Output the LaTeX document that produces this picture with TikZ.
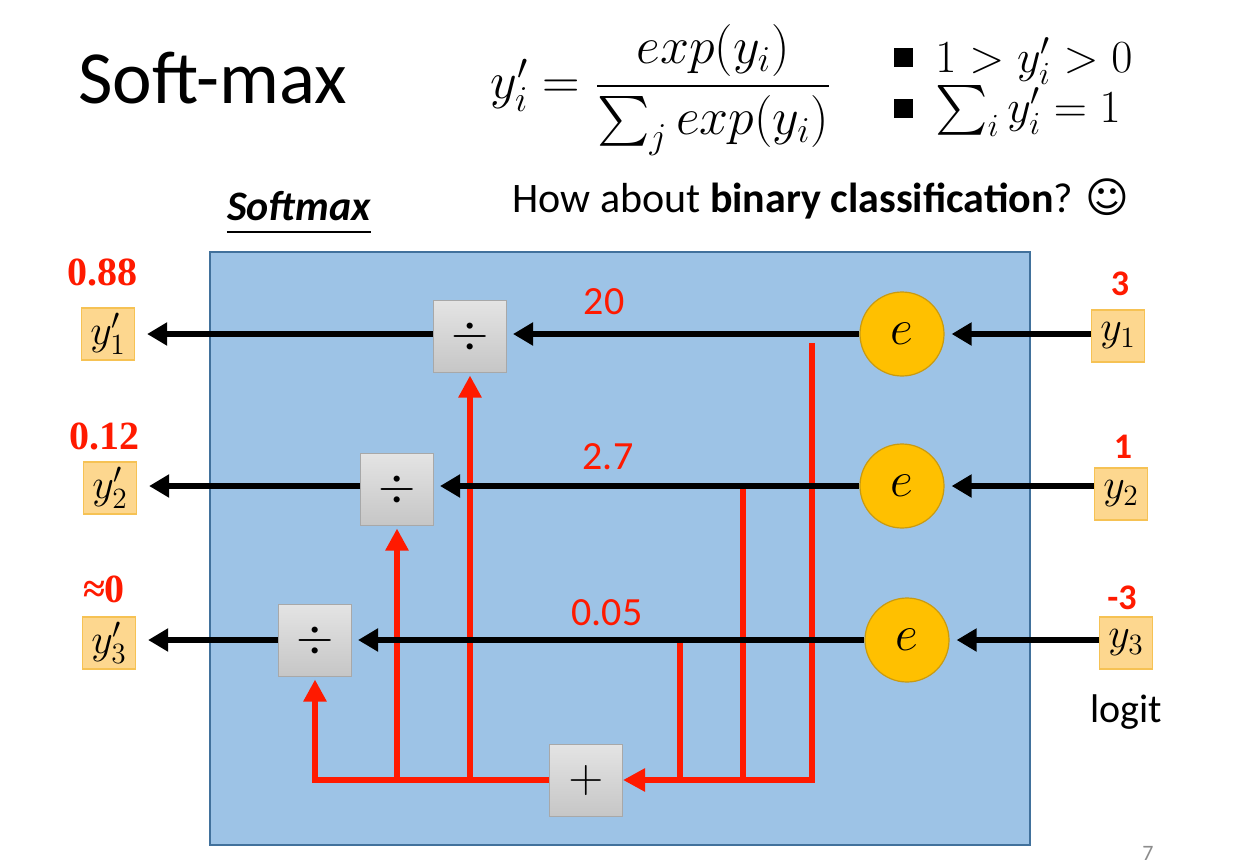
\RequirePackage{fix-cm}
\documentclass[tikz,border=0pt]{standalone}
\usepackage{amsmath}
\usepackage{fontspec}
\setmainfont{Carlito}
\newfontfamily\serifbold{Liberation Serif}
\newfontfamily\symbolfont{DejaVu Sans}
\usepackage{tikz}
\usetikzlibrary{arrows.meta,positioning,calc}
\definecolor{panelblue}{HTML}{9DC3E6}
\definecolor{paneledge}{HTML}{41719C}
\definecolor{amber}{HTML}{FFC000}
\definecolor{amberedge}{HTML}{C99A10}
\definecolor{valfill}{HTML}{FDD78F}
\definecolor{valedge}{HTML}{F6C254}
\definecolor{optop}{HTML}{E4E4E4}
\definecolor{opbottom}{HTML}{C6C6C6}
\definecolor{opedge}{HTML}{A8A8A8}
\definecolor{pptred}{HTML}{FF1A00}
\definecolor{pagegray}{HTML}{8C8C8C}

\begin{document}
\begin{tikzpicture}[
    x=0.5pt,y=-0.5pt,
    every node/.style={inner sep=0pt},
    panel/.style={fill=panelblue,draw=paneledge,line width=0.6pt},
    opbox/.style={draw=opedge,line width=0.5pt,top color=optop,bottom color=opbottom,
      minimum width=36.5pt,minimum height=36pt,font=\fontsize{24}{24}\selectfont},
    expnode/.style={circle,fill=amber,draw=amberedge,line width=0.6pt,minimum size=42pt,
      font=\fontsize{25}{25}\selectfont},
    valbox/.style={fill=valfill,draw=valedge,line width=0.6pt,minimum width=26.5pt,
      minimum height=26pt,font=\fontsize{21}{21}\selectfont},
    sigflow/.style={line width=3pt,-{Triangle[length=10pt,width=11pt]}},
    sumflow/.style={line width=3pt,pptred},
    sumarrow/.style={sumflow,-{Triangle[length=11pt,width=11pt]}},
    outval/.style={text=pptred,font=\serifbold\bfseries\fontsize{20}{20}\selectfont},
    inval/.style={text=pptred,font=\bfseries\fontsize{18}{18}\selectfont},
    expval/.style={text=pptred,font=\fontsize{20}{20}\selectfont},
  ]
  \useasboundingbox (0,0) rectangle (1238,868);
  \fill[white] (0,0) rectangle (1238,868);

  % heading, formula and the two conditions
  \node[anchor=base west,font=\fontsize{37.5}{37.5}\selectfont] (title) at (78,103) {Soft-max};
  \node[anchor=west,font=\fontsize{26}{26}\selectfont] (formula) at (490,90)
    {$y_i' = \dfrac{exp(y_i)}{\sum_j exp(y_i)}$};
  \node[fill=black,minimum size=9.5pt] (sq1) at (903,57) {};
  \node[fill=black,minimum size=9.5pt] (sq2) at (903,108) {};
  \node[anchor=base west,font=\fontsize{23}{23}\selectfont] (cond1) at (935,72) {$1 > y_i' > 0$};
  \node[anchor=base west,font=\fontsize{23}{23}\selectfont] (cond2) at (935,122) {$\sum_i y_i' = 1$};

  \node[anchor=base west,font=\fontsize{21}{21}\selectfont] (question) at (512,212)
    {How about \textbf{binary classification}? {\symbolfont ☺}};
  \node[anchor=base,font=\bfseries\itshape\fontsize{21}{21}\selectfont] (softlbl) at (299,220) {Softmax};
  \draw[line width=0.8pt] ([yshift=-6pt]softlbl.base west) -- ([yshift=-6pt]softlbl.base east);

  % the softmax block
  \draw[panel] (210,252) rectangle (1030,845);

  \node[valbox] (out1) at (108,334) {$y_1'$};
  \node[valbox] (out2) at (110,488) {$y_2'$};
  \node[valbox] (out3) at (109,643) {$y_3'$};
  \node[opbox] (div1) at (470,336) {$\div$};
  \node[opbox] (div2) at (397,489) {$\div$};
  \node[opbox] (div3) at (315,640) {$\div$};
  \node[opbox] (sum) at (586,780) {$+$};
  \node[expnode] (exp1) at (902,334) {$e$};
  \node[expnode] (exp2) at (902,486) {$e$};
  \node[expnode] (exp3) at (907,640) {$e$};
  \node[valbox] (in1) at (1118,336) {$y_1$};
  \node[valbox] (in2) at (1121,494) {$y_2$};
  \node[valbox] (in3) at (1126,643) {$y_3$};

  % red sum path
  \coordinate (tap1) at (812,343);
  \coordinate (tap2) at (743,487);
  \coordinate (tap3) at (680,640);
  \draw[sumarrow] (tap1) |- (sum.east);
  \draw[sumflow] (tap2) -- (tap2 |- sum);
  \draw[sumflow] (tap3) -- (tap3 |- sum);
  \draw[sumarrow,shorten >=1.5pt] (sum.west) -| (div3.south);
  \draw[sumarrow,shorten >=1.5pt] (div2 |- sum) -- (div2.south);
  \draw[sumarrow,shorten >=1.5pt] (div1 |- sum) -- (div1.south);

  % black signal path
  \foreach \i in {1,2,3} {
    \draw[sigflow,shorten >=3.5pt] (in\i.west |- exp\i) -- (exp\i.east);
    \draw[sigflow,shorten >=3pt] (exp\i.west) -- (exp\i.west -| div\i.east);
    \draw[sigflow,shorten >=6pt] (div\i.west |- exp\i) -- (out\i.east |- exp\i);
  }

  \node[expval] (v1) at (604,302) {20};
  \node[expval] (v2) at (608,457) {2.7};
  \node[expval] (v3) at (607,613) {0.05};

  \node[outval] (p1) at (103,272) {0.88};
  \node[outval] (p2) at (104,436) {0.12};
  \node[outval] (p3) at (104,589) {≈0};

  \node[inval] (z1) at (1120,284) {3};
  \node[inval] (z2) at (1123,447) {1};
  \node[inval] (z3) at (1122,598) {-3};
  \node[font=\fontsize{20}{20}\selectfont] (logitlbl) at (1126,712) {logit};

  \node[text=pagegray,font=\fontsize{11}{11}\selectfont] (pagenum) at (1148,853) {7};
\end{tikzpicture}
\end{document}
